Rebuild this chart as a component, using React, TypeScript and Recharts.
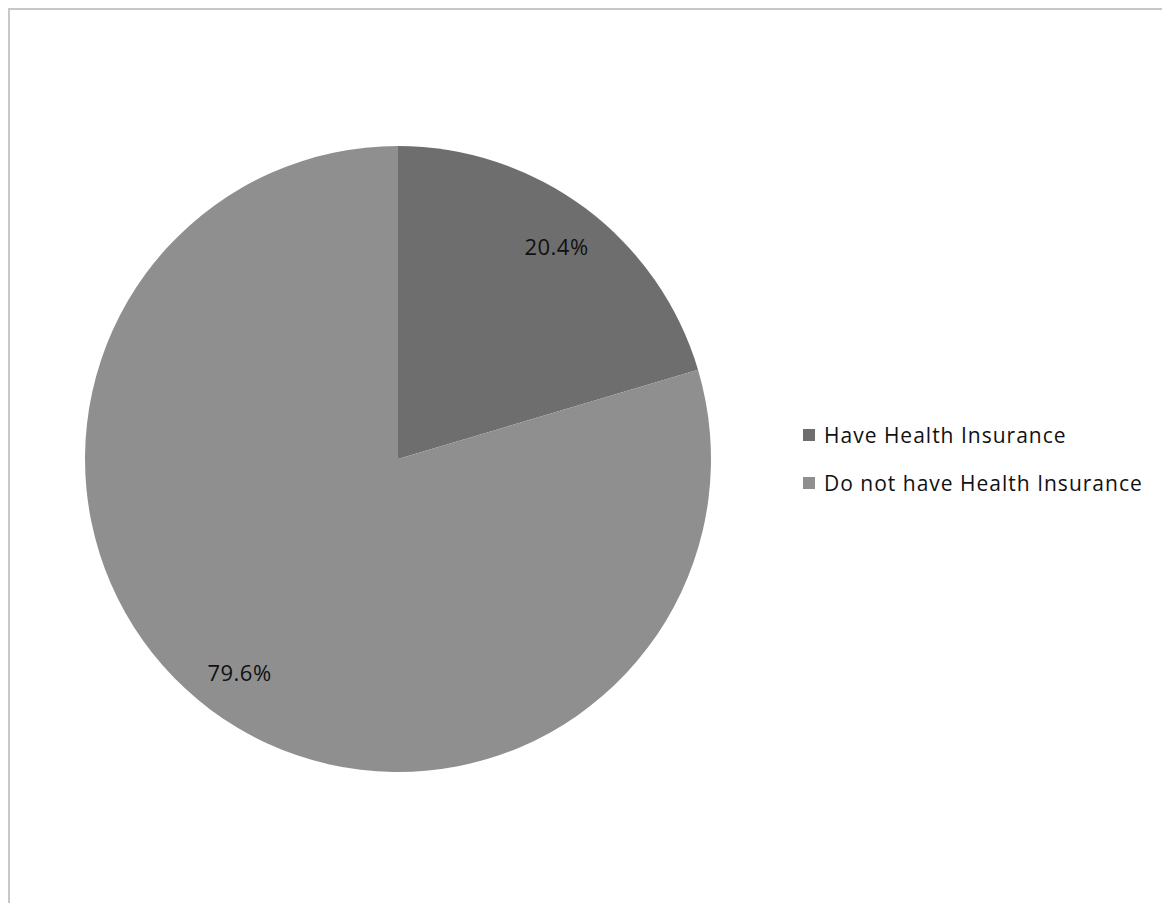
import { Legend, Pie, PieChart } from "recharts";

const categories = ["Have Health Insurance", "Do not have Health Insurance"];
const shares = [20.4, 79.6];
const sliceColors = ["#6e6e6e", "#8f8f8f"];

const data = categories.map((name, i) => ({ name, value: shares[i], fill: sliceColors[i] }));

const RAD = Math.PI / 180;
const FONT = "'Open Sans', 'Noto Sans', sans-serif";

function renderLabel(props: any) {
  const { cx, cy, midAngle, outerRadius, value } = props;
  const r = outerRadius * 0.847;
  const x = cx + r * Math.cos(-midAngle * RAD);
  const y = cy + r * Math.sin(-midAngle * RAD);
  return (
    <text
      x={x}
      y={y}
      fill="#111"
      fontSize={22}
      letterSpacing={0.5}
      fontFamily={FONT}
      textAnchor="middle"
      dominantBaseline="central"
    >
      {`${Number(value).toFixed(1)}%`}
    </text>
  );
}

function LegendContent() {
  return (
    <div style={{ fontFamily: FONT, fontSize: 21, letterSpacing: 1, color: "#111" }}>
      {data.map((d) => (
        <div key={d.name} style={{ display: "flex", alignItems: "center", height: 48 }}>
          <span
            style={{ width: 12, height: 12, background: d.fill, marginRight: 9, display: "inline-block" }}
          />
          <span>{d.name}</span>
        </div>
      ))}
    </div>
  );
}

export default function App() {
  return (
    <div
      style={{
        position: "absolute",
        left: 0,
        top: 0,
        width: 1162,
        height: 903,
        overflow: "hidden",
        background: "#fff",
      }}
    >
      <div
        style={{
          position: "absolute",
          left: 8,
          top: 8,
          width: 1200,
          height: 960,
          border: "2px solid #c8c8c8",
          boxSizing: "border-box",
        }}
      />
      <div style={{ position: "absolute", left: 0, top: 0 }}>
        {/* default 5px chart margin is added to cx/cy */}
        <PieChart width={1162} height={903}>
          <Pie
            data={data}
            dataKey="value"
            nameKey="name"
            cx={393}
            cy={454}
            outerRadius={313}
            startAngle={90}
            endAngle={-270}
            stroke="none"
            label={renderLabel}
            labelLine={false}
            isAnimationActive={false}
          />
          <Legend
            content={<LegendContent />}
            wrapperStyle={{ position: "absolute", left: 803, top: 411, width: 360 }}
          />
        </PieChart>
      </div>
    </div>
  );
}
